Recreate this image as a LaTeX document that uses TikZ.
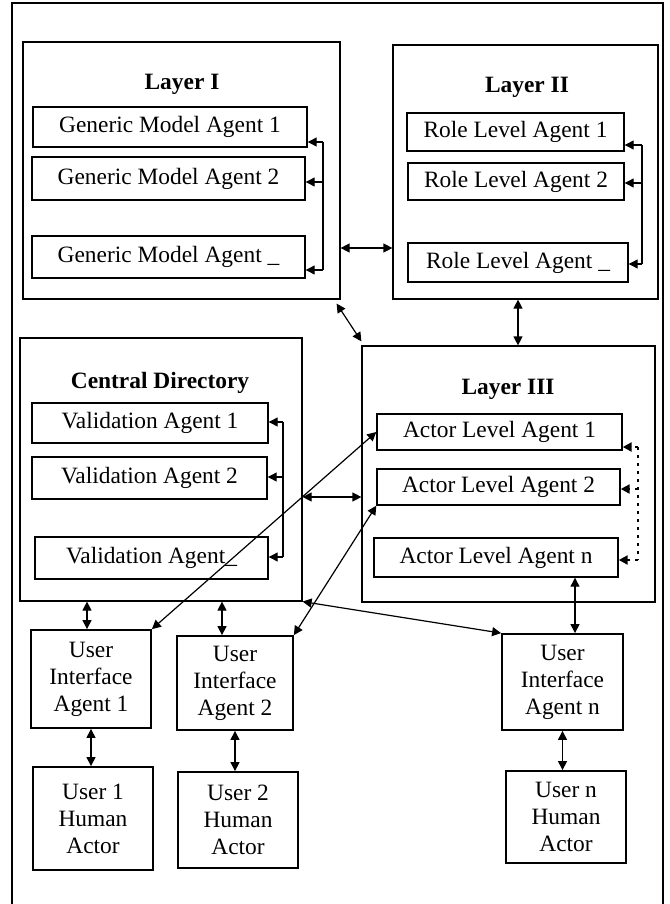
\documentclass[tikz,border=0pt]{standalone}
\usepackage{fontspec}
\setmainfont{Liberation Serif}
\usetikzlibrary{arrows.meta,positioning}

\begin{document}
\begin{tikzpicture}[x=0.5pt,y=-0.5pt,
    >={Triangle[length=4.5pt,width=4.5pt]},
    font=\fontsize{11.7}{13.5}\selectfont,
    layer/.style={draw,line width=0.6pt,inner sep=0pt},
    agent/.style={draw,line width=0.7pt,inner sep=0pt},
    user/.style={draw,line width=0.9pt,inner sep=0pt,align=center},
    link/.style={<->,line width=0.6pt},
    tap/.style={->,line width=0.6pt}]
  \useasboundingbox (0,0) rectangle (669,904);
  \draw[line width=1.4pt] (12,904) -- (12,3) -- (663,3) -- (663,904);

  % the four groups
  \node[layer,minimum width=158.5pt,minimum height=128.5pt] (l1) at (181.5,170.5) {};
  \node[layer,minimum width=132.5pt,minimum height=127pt] (l2) at (525.5,172) {};
  \node[layer,minimum width=141pt,minimum height=131.5pt] (cd) at (161,469.5) {};
  \node[layer,minimum width=146.5pt,minimum height=128pt] (l3) at (508.5,474) {};
  \node[anchor=base] (l1t) at (182,90) {\textbf{Layer I}};
  \node[anchor=base] (l2t) at (527,93) {\textbf{Layer II}};
  \node[anchor=base] (cdt) at (160,388) {\textbf{Central Directory}};
  \node[anchor=base] (l3t) at (508,394) {\textbf{Layer III}};

  % agents
  \node[agent,minimum width=137pt,minimum height=20pt] (gma1) at (170,127) {Generic Model Agent 1};
  \node[agent,minimum width=136.5pt,minimum height=21.5pt] (gma2) at (168.5,178.5) {Generic Model Agent 2};
  \node[agent,minimum width=136.5pt,minimum height=21pt] (gman) at (168.5,257) {Generic Model Agent \_};
  \node[agent,minimum width=108.5pt,minimum height=19pt] (rla1) at (515.5,132) {Role Level Agent 1};
  \node[agent,minimum width=108pt,minimum height=18.5pt] (rla2) at (516,181.5) {Role Level Agent 2};
  \node[agent,minimum width=110pt,minimum height=19.5pt] (rlan) at (518,262.5) {Role Level Agent \_};
  \node[agent,minimum width=118pt,minimum height=20pt] (va1) at (150,423) {Validation Agent 1};
  \node[agent,minimum width=117.5pt,minimum height=21pt] (va2) at (149.5,478) {Validation Agent 2};
  \node[agent,minimum width=116.5pt,minimum height=21pt] (van) at (151.5,558) {Validation Agent\_};
  \node[agent,minimum width=122.5pt,minimum height=18pt] (ala1) at (499.5,432) {Actor Level Agent 1};
  \node[agent,minimum width=121.5pt,minimum height=18pt] (ala2) at (498.5,487) {Actor Level Agent 2};
  \node[agent,minimum width=122pt,minimum height=19.5pt] (alan) at (496,557.5) {Actor Level Agent n};

  % users
  \node[user,minimum width=60pt,minimum height=49pt] (uia1) at (91,679) {User\\Interface\\Agent 1};
  \node[user,minimum width=58pt,minimum height=47pt] (uia2) at (235,683) {User\\Interface\\Agent 2};
  \node[user,minimum width=60.5pt,minimum height=48pt] (uian) at (562.5,682) {User\\Interface\\Agent n};
  \node[user,minimum width=60pt,minimum height=51.5pt] (uha1) at (93,818.5) {User 1\\Human\\Actor};
  \node[user,minimum width=60pt,minimum height=48pt] (uha2) at (238,820) {User 2\\Human\\Actor};
  \node[user,minimum width=60pt,minimum height=46pt] (uhan) at (566,817) {User n\\Human\\Actor};

  % brackets inside the groups
  \draw[line width=0.6pt] (323,142) -- (323,270);
  \foreach \n/\y in {gma1/142,gma2/182,gman/270}
    \draw[tap] (323,\y) coordinate (t) -- (t -| \n.east);
  \draw[line width=0.6pt] (642,145) -- (642,264);
  \foreach \n/\y in {rla1/145,rla2/183,rlan/264}
    \draw[tap] (642,\y) coordinate (t) -- (t -| \n.east);
  \draw[line width=0.6pt] (283,422) -- (283,557);
  \foreach \n/\y in {va1/422,va2/477,van/557}
    \draw[tap] (283,\y) coordinate (t) -- (t -| \n.east);
  \draw[line width=1.4pt,dash pattern=on 1.5pt off 2.5pt] (638,447) -- (638,560);
  \foreach \n/\y in {ala1/447,ala2/489,alan/560}
    \draw[tap,line width=1.4pt,dash pattern=on 1.5pt off 2.5pt] (638,\y) coordinate (t) -- (t -| \n.east);

  % links between groups
  \draw[link] ([shift={(0,77.5)}]l1.east) coordinate (l12) -- (l12 -| l2.west);
  \draw[link] ([shift={(-4,4)}]l1.south east) -- ([shift={(0,-4)}]l3.north west);
  \coordinate (l2b) at ([shift={(-7.5,0)}]l2.south);
  \draw[link] (l2b) -- (l2b |- l3.north);
  \draw[link] ([shift={(0,27.5)}]cd.east) coordinate (cd3) -- (cd3 -| l3.west);

  % links to the user agents
  \draw[link] (uia1.north east) -- (ala1.west);
  \draw[link] (uia2.north east) -- (ala2.south west);
  \draw[link] (cd.south east) -- (uian.north west);
  \coordinate (u1top) at ([shift={(-4,0)}]uia1.north);
  \draw[link] (u1top |- cd.south) -- (u1top);
  \coordinate (u2top) at ([shift={(-13,0)}]uia2.north);
  \draw[link] (u2top |- cd.south) -- (u2top);
  \coordinate (untop) at ([shift={(12.5,0)}]uian.north);
  \draw[link] (untop |- alan.south) -- (untop);
  \draw[link] (uia1.south) -- (uia1.south |- uha1.north);
  \draw[link] (uia2.south) -- (uia2.south |- uha2.north);
  \draw[link] (uian.south) -- (uian.south |- uhan.north);
\end{tikzpicture}
\end{document}
